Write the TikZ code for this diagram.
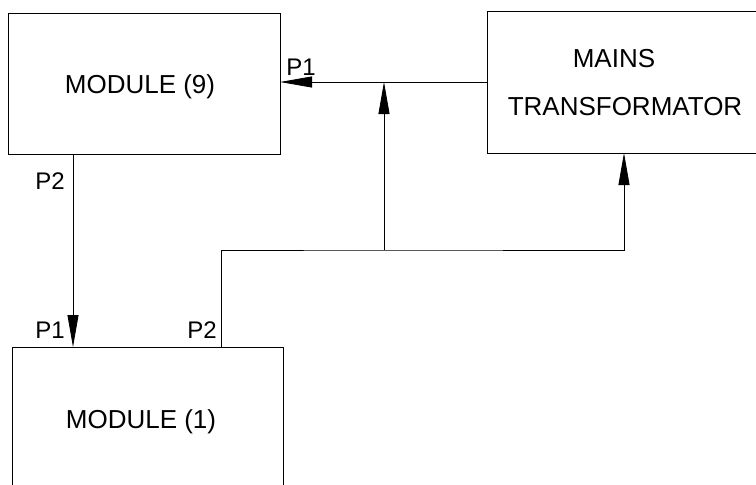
\documentclass[tikz,border=0pt]{standalone}
\usepackage{fontspec}
\setmainfont{Liberation Sans}
\usetikzlibrary{arrows.meta}
\begin{document}
\begin{tikzpicture}[x=1pt,y=-1pt,
  box/.style={draw, line width=0.8pt, inner sep=0pt, minimum width=#1},
  boxtext/.style={font=\fontsize{26}{30}\selectfont, inner sep=0pt, anchor=base},
  port/.style={font=\fontsize{24}{28}\selectfont, inner sep=0pt, anchor=base},
  wire/.style={line width=0.8pt},
  arr/.style={wire, -{Triangle[length=32pt,width=11pt]}}]
\useasboundingbox (0,0) rectangle (756,485);
\clip (0,0) rectangle (756,485);
% boxes
\node[draw, line width=0.8pt, minimum width=272pt, minimum height=141pt, inner sep=0pt] (mod9) at (144,84) {};
\node[draw, line width=0.8pt, minimum width=290pt, minimum height=142pt, inner sep=0pt] (mains) at (632,82) {};
\node[draw, line width=0.8pt, minimum width=271pt, minimum height=160pt, inner sep=0pt] (mod1) at (147.5,427) {};
% texts
\node[boxtext] (t9) at (140,93) {MODULE (9)};
\node[boxtext] (t1) at (141,428) {MODULE (1)};
\node[boxtext] (tm) at (614,67) {MAINS};
\node[boxtext] (tt) at (625,115) {TRANSFORMATOR};
% port labels
\node[port] (l1) at (301,75) {P1};
\node[port] (l2) at (50,189) {P2};
\node[port] (l3) at (50,338) {P1};
\node[port] (l4) at (202,338) {P2};
% connection points
\coordinate (j1) at (384,82);
\coordinate (j2) at (384,250);
\coordinate (m9out) at (73,155);
\coordinate (m1in) at (73,347);
\coordinate (m1p2) at (221,347);
\coordinate (mainsin) at (624,153);
\coordinate (mainsout) at (488,82);
\coordinate (m9in) at (280,82);
% wires
\draw[arr] (mainsout) -- (m9in);
\draw[arr] (j2) -- (j1);
\draw[arr] (m1p2) |- (j2) -| (mainsin);
\draw[arr] (m9out) -- (m1in);
\end{tikzpicture}
\end{document}
